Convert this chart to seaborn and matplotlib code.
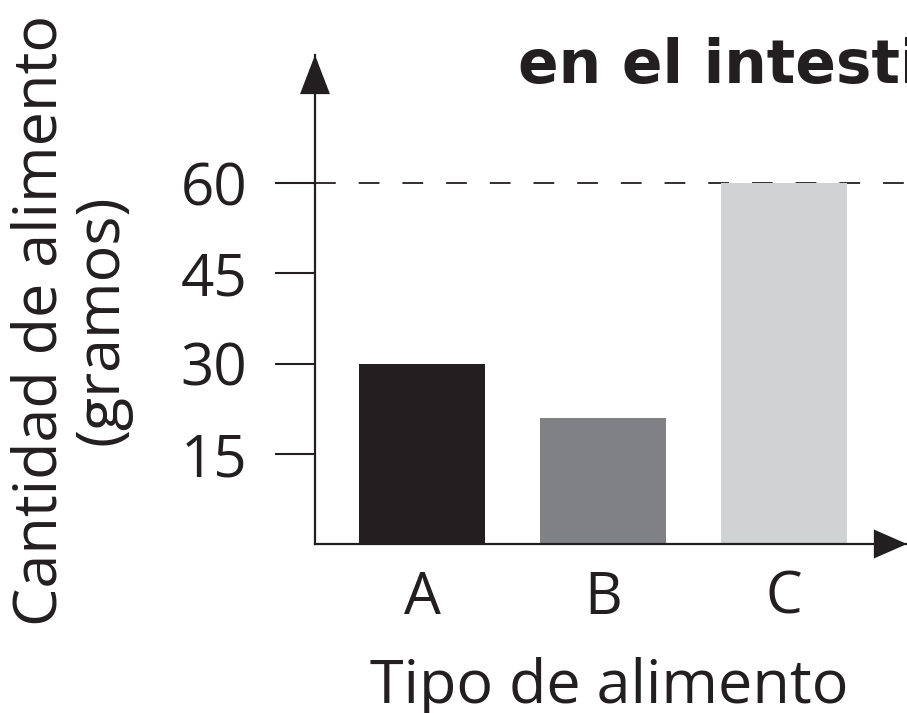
import matplotlib
matplotlib.use("Agg")
import matplotlib.pyplot as plt
import seaborn as sns
import pandas as pd

# ---- data ----
categorias = ["A", "B", "C"]
valores = [30, 21, 60]
colores = ["#231f20", "#808184", "#d1d2d4"]
ticks_y = [15, 30, 45, 60]
linea_ref = 60
titulo = "en el intestino"
etiqueta_x = "Tipo de alimento"
etiqueta_y = "Cantidad de alimento\n(gramos)"

sns.set_theme(style="white")
plt.rcParams["font.family"] = ["Open Sans", "DejaVu Sans"]
ink = "#231f20"
plt.rcParams["text.color"] = ink

W, H = 907, 713
fig = plt.figure(figsize=(W / 100, H / 100), dpi=100)
fig.patch.set_facecolor("white")

# axes box in pixels: left 315, right 907, bottom 544, top 55
ax = fig.add_axes([315 / W, (H - 544) / H, (907 - 315) / W, (544 - 55) / H])
ax.set_facecolor("white")

df = pd.DataFrame({"tipo": categorias, "cantidad": valores})
sns.barplot(data=df, x="tipo", y="cantidad", hue="tipo", palette=colores,
            width=0.70, legend=False, saturation=1, ax=ax, linewidth=0)

ax.set_ylim(0, 81.3)
ax.set_xlim(-0.591, 2.680)

ax.axhline(linea_ref, color=ink, lw=1.3, dashes=(11.5, 12.7), zorder=0.5)

for s in ["top", "right"]:
    ax.spines[s].set_visible(False)
for s in ["left", "bottom"]:
    ax.spines[s].set_color(ink)
    ax.spines[s].set_linewidth(1.6)

ax.set_yticks(ticks_y)
ax.set_yticklabels([str(t) for t in ticks_y])
ax.tick_params(axis="y", length=28.8, width=1.5, color=ink, pad=20,
               labelsize=42, labelcolor=ink, left=True)
ax.tick_params(axis="x", length=0, pad=18, labelsize=42, labelcolor=ink)
ax.set_xlabel("")
ax.set_ylabel("")

# arrow heads
ax.fill([0, -0.0253, 0.0253], [1, 0.920, 0.920], color=ink,
        transform=ax.transAxes, clip_on=False, lw=0)
ax.fill([1, 0.944, 0.944], [0, 0.0297, -0.0297], color=ink,
        transform=ax.transAxes, clip_on=False, lw=0)

fig.text(518 / W, 1 - 83 / H, titulo, fontsize=43, fontweight="bold",
         family="DejaVu Sans", ha="left", va="baseline", color=ink)
fig.text(609 / W, 1 - 703 / H, etiqueta_x, fontsize=44, ha="center",
         va="baseline", color=ink)
fig.text(71 / W, 1 - 320 / H, etiqueta_y, fontsize=44, rotation=90,
         ha="center", va="center", multialignment="center",
         linespacing=1.02, color=ink)

fig.savefig("out.png", dpi=100, facecolor="white")
